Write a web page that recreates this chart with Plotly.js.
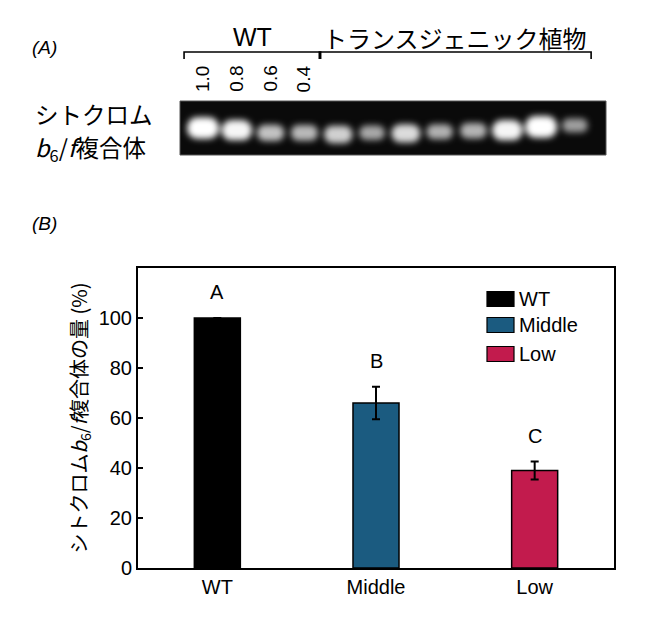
<!DOCTYPE html>
<html>
<head>
<meta charset="utf-8">
<script src="https://cdn.plot.ly/plotly-3.0.1.min.js"></script>
<style>html,body{margin:0;padding:0;background:#fff;}</style>
</head>
<body>
<svg width="0" height="0" style="position:absolute">
  <defs>
    <filter id="glow" x="-50%" y="-100%" width="200%" height="300%">
      <feGaussianBlur stdDeviation="3.2"/>
    </filter>
  </defs>
</svg>
<div id="chart" style="width:650px;height:619px;"></div>
<script>
// ---------- Panel B data ----------
const categories = ['WT', 'Middle', 'Low'];
const amountPercent = [100, 66, 39];
const errorPercent = [0, 6.5, 3.6];
const sigLetters = ['A', 'B', 'C'];
const barColors = ['#000000', '#1b5b80', '#c21b4d'];
const yTicks = [0, 20, 40, 60, 80, 100];

// ---------- Panel A data (gel) ----------
const laneIndex = [0, 1, 2, 3, 4, 5, 6, 7, 8, 9, 10, 11];
const bandIntensity = [1.0, 0.9, 0.6, 0.55, 0.68, 0.45, 0.75, 0.5, 0.52, 0.9, 1.0, 0.4];
const bandMigration = [0.5, 0.46, 0.41, 0.41, 0.38, 0.41, 0.4, 0.43, 0.45, 0.46, 0.52, 0.55];
const wtDilutionLabels = ['1.0', '0.8', '0.6', '0.4'];
const groupNames = ['WT', 'トランスジェニック植物'];
const groupFirstLane = [0, 4];
const groupLastLane = [3, 11];
const rowLabelLines = ['シトクロム', '<i>b</i><sub>6</sub>/<i>f</i>複合体'];

const W = 650, H = 619;
const px = v => v / W;
const py = v => 1 - v / H;
const LAT = 'Liberation Sans, Arial, Helvetica, sans-serif';
const JP = 'Noto Sans CJK JP, Liberation Sans, sans-serif';

// gel bands
const bandH = bandIntensity.map(i => 0.16 + 0.24 * i);
const bandW = bandIntensity.map(i => 0.62 + 0.32 * i);
const bandBase = bandMigration.map((m, k) => m - bandH[k] / 2);
const bandCol = bandIntensity.map(i => {
  const g = Math.round(90 + 165 * Math.min(1, i * 1.05));
  return 'rgb(' + g + ',' + g + ',' + g + ')';
});

const gelTrace = {
  type: 'bar', x: laneIndex, y: bandH, base: bandBase, width: bandW,
  xaxis: 'x2', yaxis: 'y2',
  marker: {color: bandCol, line: {width: 0}, cornerradius: '45%'},
  hoverinfo: 'skip', showlegend: false
};

const barTrace = {
  type: 'bar', x: categories, y: amountPercent, width: 0.29,
  marker: {color: barColors, line: {color: '#000', width: 1.5}},
  error_y: {type: 'data', array: errorPercent, visible: true, color: '#000', thickness: 2, width: 4},
  hoverinfo: 'x+y', showlegend: false
};

const annotations = [];
const shapes = [];

// gel background
shapes.push({type: 'rect', xref: 'x2 domain', yref: 'y2 domain', x0: 0, x1: 1, y0: 0, y1: 1,
  fillcolor: '#0a0a0a', line: {color: '#555', width: 1}, layer: 'below'});

// group brackets and names
groupNames.forEach((name, g) => {
  const x0 = groupFirstLane[g] - 0.56, x1 = groupLastLane[g] + 0.48;
  const yt = py(52), yb = py(59);
  shapes.push({type: 'path', xref: 'x2', yref: 'paper',
    path: `M${x0},${yb} L${x0},${yt} L${x1},${yt} L${x1},${yb}`,
    line: {color: '#000', width: 1.6}});
  annotations.push({xref: 'x2', yref: 'paper', x: (x0 + x1) / 2, y: py(37),
    text: name, showarrow: false, xanchor: 'center', yanchor: 'middle',
    font: {family: g === 0 ? LAT : JP, size: g === 0 ? 25 : 24, color: '#000'}});
});

// WT dilution labels
wtDilutionLabels.forEach((t, k) => {
  annotations.push({xref: 'x2', yref: 'paper', x: laneIndex[k], y: py(79), text: t,
    textangle: -90, showarrow: false, xanchor: 'center', yanchor: 'middle',
    font: {family: LAT, size: 19, color: '#000'}});
});

// panel labels
annotations.push({xref: 'paper', yref: 'paper', x: px(30), y: py(47), text: '(A)',
  showarrow: false, xanchor: 'left', yanchor: 'middle',
  font: {family: LAT, size: 19, color: '#000', style: 'italic'}});
annotations.push({xref: 'paper', yref: 'paper', x: px(30), y: py(223), text: '(B)',
  showarrow: false, xanchor: 'left', yanchor: 'middle',
  font: {family: LAT, size: 19, color: '#000', style: 'italic'}});

// gel row label (two lines)
const rowLabelY = [114, 149];
const rowLabelX = [94, 90];
rowLabelLines.forEach((t, k) => {
  annotations.push({xref: 'paper', yref: 'paper', x: px(rowLabelX[k]), y: py(rowLabelY[k]), text: t,
    showarrow: false, xanchor: 'center', yanchor: 'middle', font: {family: JP, size: 23.5, color: '#000'}});
});

// significance letters
categories.forEach((c, k) => {
  annotations.push({xref: 'x', yref: 'y', x: c, y: amountPercent[k] + errorPercent[k], text: sigLetters[k],
    showarrow: false, xanchor: 'center', yanchor: 'bottom', yshift: 13,
    font: {family: LAT, size: 20, color: '#000'}});
});

// custom legend
const legRows = [299, 325, 354];
categories.forEach((c, k) => {
  shapes.push({type: 'rect', xref: 'paper', yref: 'paper',
    x0: px(487), x1: px(514), y0: py(legRows[k] - 7.5), y1: py(legRows[k] + 7.5),
    fillcolor: barColors[k], line: {color: '#000', width: 1.2}});
  annotations.push({xref: 'paper', yref: 'paper', x: px(517), y: py(legRows[k]), text: c,
    showarrow: false, xanchor: 'left', yanchor: 'middle', font: {family: LAT, size: 20, color: '#000'}});
});

const layout = {
  width: W, height: H,
  margin: {l: 0, r: 0, t: 0, b: 0},
  paper_bgcolor: '#fff', plot_bgcolor: 'rgba(0,0,0,0)',
  showlegend: false,
  xaxis: {domain: [px(138), px(614)], anchor: 'y', type: 'category',
    showline: true, linecolor: '#000', linewidth: 2, mirror: true,
    ticks: '', showgrid: false, zeroline: false,
    tickfont: {family: LAT, size: 20, color: '#000'}},
  yaxis: {domain: [py(568), py(268)], anchor: 'x', range: [0, 120],
    tickvals: yTicks, ticks: 'inside', ticklen: 5, tickwidth: 1.5, tickcolor: '#000',
    showline: true, linecolor: '#000', linewidth: 2, mirror: true,
    showgrid: false, zeroline: false,
    tickfont: {family: LAT, size: 20, color: '#000'},
    title: {text: 'シトクロム<i>b</i><sub>6</sub>/<i>f</i>複合体の量 (%)', standoff: 6,
      font: {family: JP, size: 20, color: '#000'}}},
  xaxis2: {domain: [px(180), px(606)], anchor: 'y2', range: [-0.68, 11.92], visible: false, fixedrange: true},
  yaxis2: {domain: [py(155), py(101)], anchor: 'x2', range: [0, 1], visible: false, fixedrange: true},
  shapes: shapes,
  annotations: annotations
};

Plotly.newPlot('chart', [gelTrace, barTrace], layout, {displayModeBar: false, staticPlot: true}).then(() => {
  document.querySelectorAll('.subplot.x2y2 .barlayer').forEach(g => g.setAttribute('filter', 'url(#glow)'));
  document.querySelectorAll('#chart text').forEach(t => { if (!t.textContent.trim()) t.remove(); });
});
</script>
</body>
</html>
